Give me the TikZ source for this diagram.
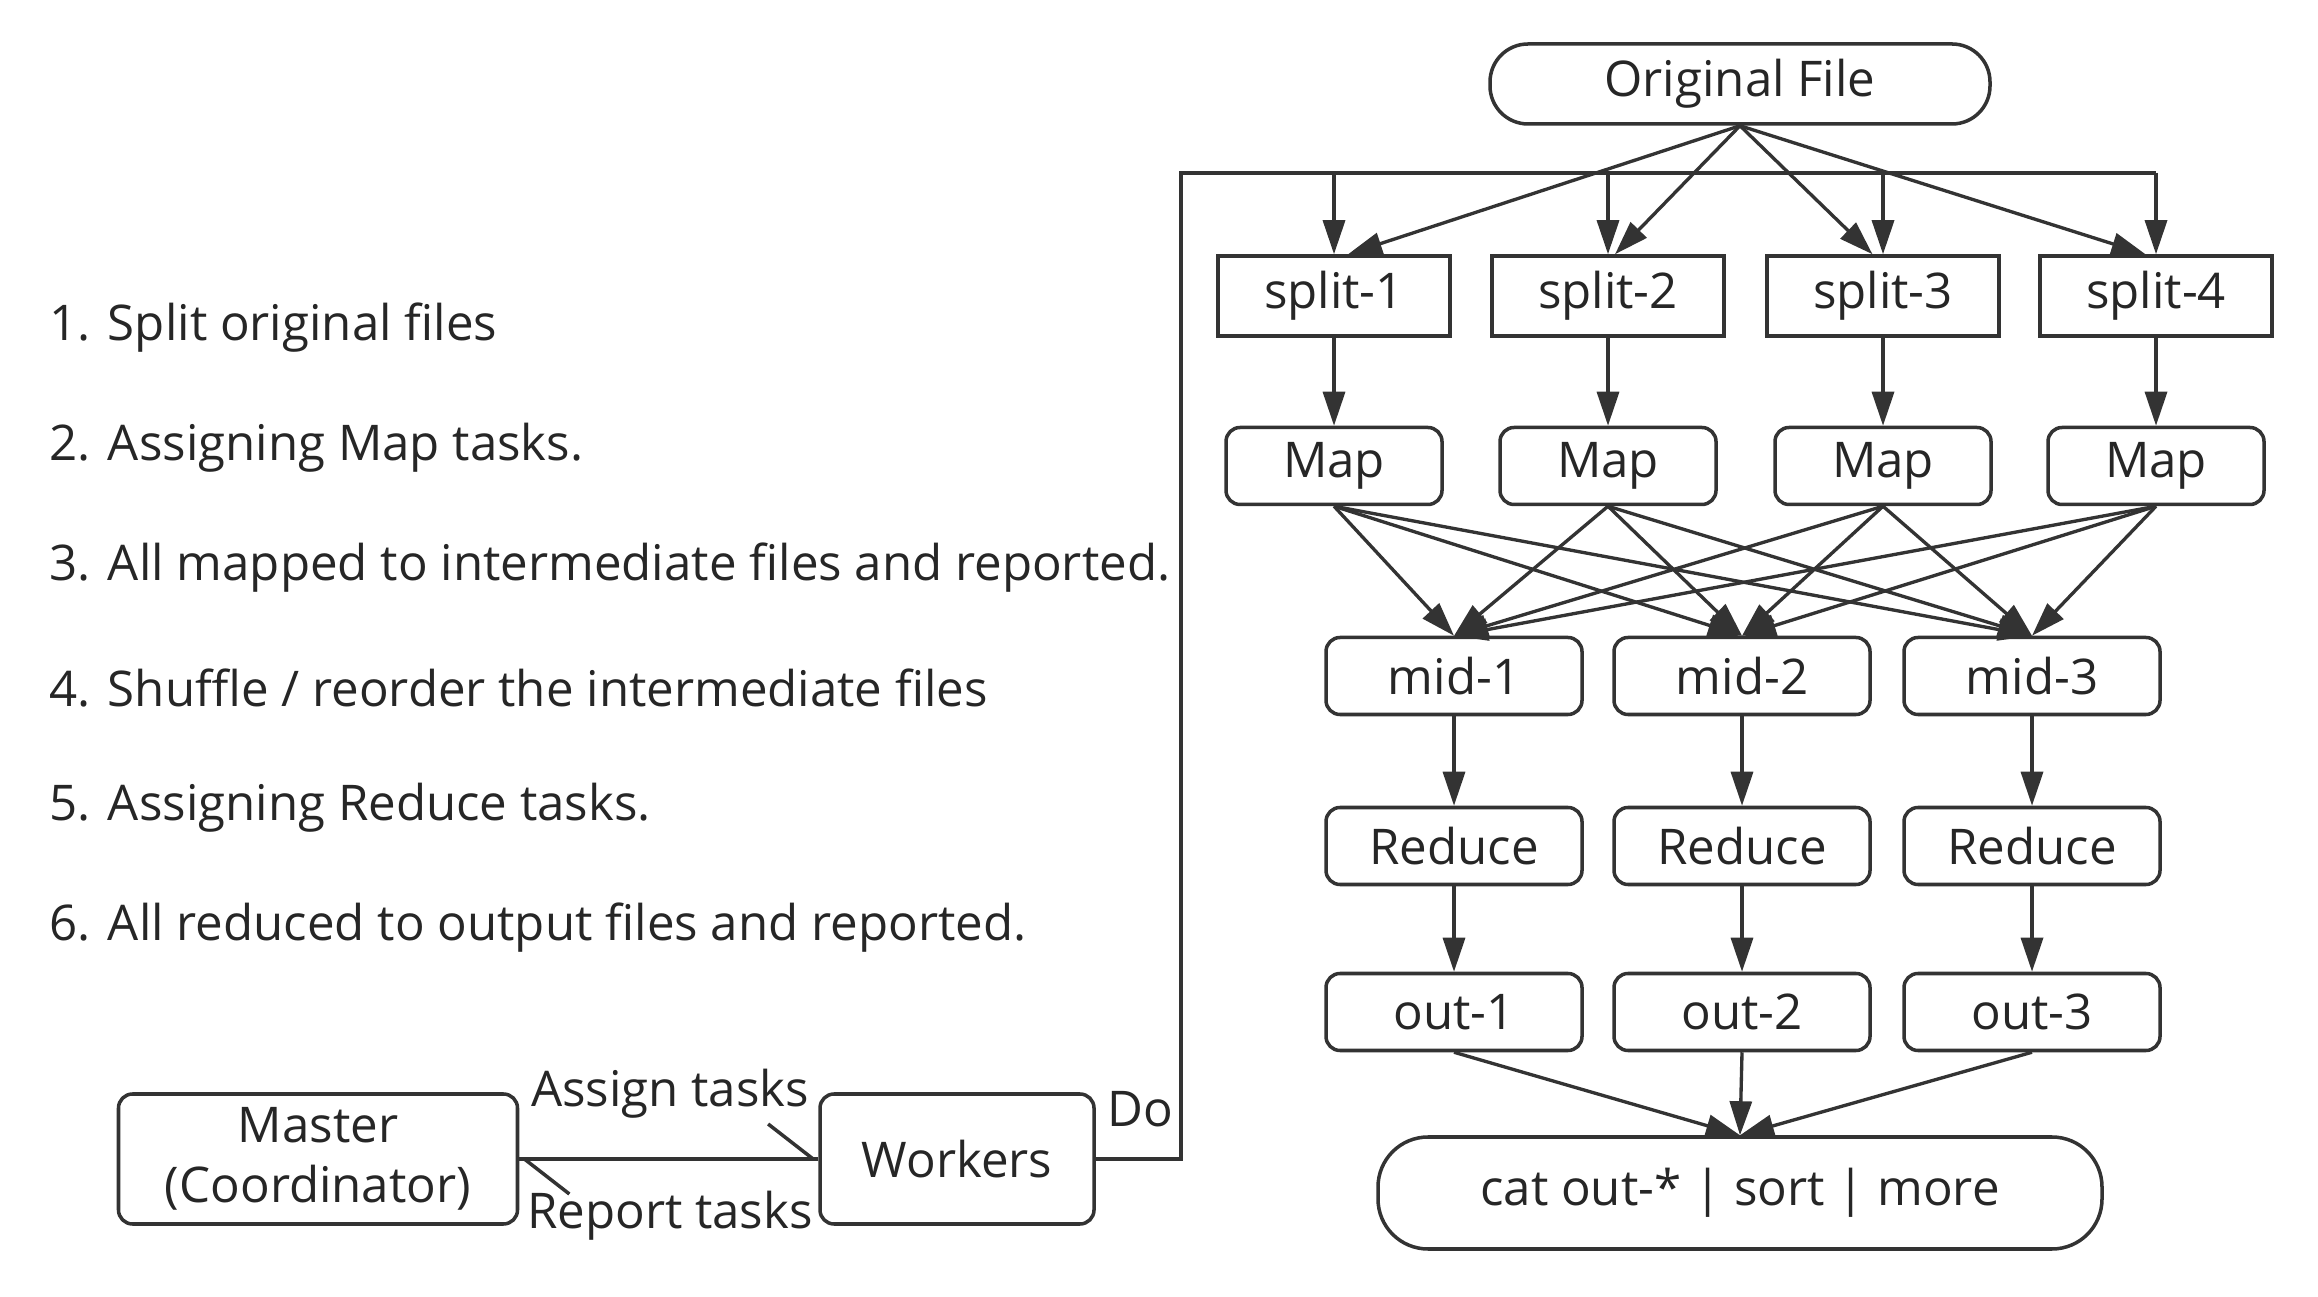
\documentclass[tikz,border=0pt]{standalone}
\usepackage{fontspec}
\setmainfont{Open Sans}
\usetikzlibrary{arrows.meta,positioning}
\definecolor{LineGray}{RGB}{51,51,51}
\definecolor{TextGray}{RGB}{38,38,38}

\begin{document}
\begin{tikzpicture}[
  text=TextGray,
  font=\fontsize{14}{17}\selectfont,
  sbox/.style={draw=LineGray,line width=1pt,minimum width=2.32cm,minimum height=0.8cm,inner sep=0pt},
  rbox/.style={draw=LineGray,line width=1pt,rounded corners=4pt,minimum height=0.77cm,inner sep=0pt},
  pill/.style={draw=LineGray,line width=1pt,rounded corners=0.38cm,inner sep=0pt},
  arr/.style={-{Triangle[length=0.34cm,width=0.22cm]},draw=LineGray,line width=0.95pt},
  harp/.style={-{Straight Barb[left,length=0.45cm,width=0.7cm]},draw=LineGray,line width=1pt},
  item/.style={anchor=west,inner sep=0pt,font=\fontsize{14}{17}\selectfont},
]
\useasboundingbox (0,0) rectangle (23.18,12.96);
% steps on the left
\node[item] (t1) at (0.49,9.68) {1. Split original files};
\node[item] (t2) at (0.49,8.48) {2. Assigning Map tasks.};
\node[item] (t3) at (0.49,7.28) {3. All mapped to intermediate files and reported.};
\node[item] (t4) at (0.49,6.08) {4. Shuffle / reorder the intermediate files};
\node[item] (t5) at (0.49,4.88) {5. Assigning Reduce tasks.};
\node[item] (t6) at (0.49,3.68) {6. All reduced to output files and reported.};
% pipeline
\node[pill,minimum width=5.0cm,minimum height=0.8cm] (orig) at (17.40,12.12) {Original File};
\node[sbox] (s1) at (13.34,10.00) {split-1};
\node[sbox] (s2) at (16.08,10.00) {split-2};
\node[sbox] (s3) at (18.83,10.00) {split-3};
\node[sbox] (s4) at (21.56,10.00) {split-4};
\node[rbox,minimum width=2.16cm] (m1) at (13.34,8.30) {Map};
\node[rbox,minimum width=2.16cm] (m2) at (16.08,8.30) {Map};
\node[rbox,minimum width=2.16cm] (m3) at (18.83,8.30) {Map};
\node[rbox,minimum width=2.16cm] (m4) at (21.56,8.30) {Map};
\node[rbox,minimum width=2.56cm] (i1) at (14.54,6.20) {mid-1};
\node[rbox,minimum width=2.56cm] (i2) at (17.42,6.20) {mid-2};
\node[rbox,minimum width=2.56cm] (i3) at (20.32,6.20) {mid-3};
\node[rbox,minimum width=2.56cm] (r1) at (14.54,4.50) {Reduce};
\node[rbox,minimum width=2.56cm] (r2) at (17.42,4.50) {Reduce};
\node[rbox,minimum width=2.56cm] (r3) at (20.32,4.50) {Reduce};
\node[rbox,minimum width=2.56cm] (o1) at (14.54,2.84) {out-1};
\node[rbox,minimum width=2.56cm] (o2) at (17.42,2.84) {out-2};
\node[rbox,minimum width=2.56cm] (o3) at (20.32,2.84) {out-3};
\node[pill,minimum width=7.24cm,minimum height=1.12cm,rounded corners=0.5cm] (cat) at (17.40,1.03) {cat out-* | sort | more};
% master and workers
\node[rbox,minimum width=3.99cm,minimum height=1.30cm,align=center] (master) at (3.18,1.37) {Master\\(Coordinator)};
\node[rbox,minimum width=2.74cm,minimum height=1.30cm] (workers) at (9.57,1.37) {Workers};
\node (assign) at (6.70,2.02) {Assign tasks};
\node (report) at (6.70,0.80) {Report tasks};
\node (do) at (11.40,1.87) {Do};
\draw[harp] (master) -- (workers);
\draw[harp] (workers) -- (master);
\coordinate (busL) at (11.81,11.23);
\coordinate (busR) at (s4 |- busL);
\draw[LineGray,line width=1.4pt] (workers.east) -| (busL) -- (busR);
\draw[arr] (s1 |- busL) -- (s1);
\draw[arr] (s2 |- busL) -- (s2);
\draw[arr] (s3 |- busL) -- (s3);
\draw[arr] (s4 |- busL) -- (s4);
\draw[arr] (orig.south) -- ([xshift=4pt]s1.north);
\draw[arr] (orig.south) -- ([xshift=2pt]s2.north);
\draw[arr] (orig.south) -- ([xshift=-3pt]s3.north);
\draw[arr] (orig.south) -- ([xshift=-3pt]s4.north);
\draw[arr] (s1) -- (m1);
\draw[arr] (s2) -- (m2);
\draw[arr] (s3) -- (m3);
\draw[arr] (s4) -- (m4);
\draw[arr] (m1.south) -- (i1.north);
\draw[arr] (m1.south) -- (i2.north);
\draw[arr] (m1.south) -- (i3.north);
\draw[arr] (m2.south) -- (i1.north);
\draw[arr] (m2.south) -- (i2.north);
\draw[arr] (m2.south) -- (i3.north);
\draw[arr] (m3.south) -- (i1.north);
\draw[arr] (m3.south) -- (i2.north);
\draw[arr] (m3.south) -- (i3.north);
\draw[arr] (m4.south) -- (i1.north);
\draw[arr] (m4.south) -- (i2.north);
\draw[arr] (m4.south) -- (i3.north);
\draw[arr] (i1) -- (r1);
\draw[arr] (i2) -- (r2);
\draw[arr] (i3) -- (r3);
\draw[arr] (r1) -- (o1);
\draw[arr] (r2) -- (o2);
\draw[arr] (r3) -- (o3);
\draw[arr] (o1.south) -- (cat.north);
\draw[arr] (o2.south) -- (cat.north);
\draw[arr] (o3.south) -- (cat.north);
\end{tikzpicture}
\end{document}
